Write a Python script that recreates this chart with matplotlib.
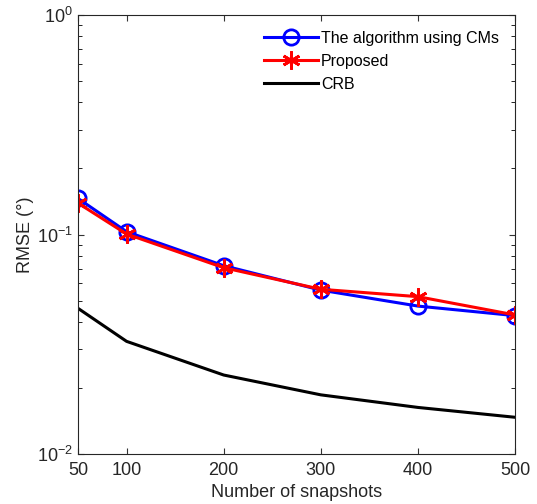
import matplotlib
matplotlib.use('Agg')
import matplotlib.pyplot as plt
from matplotlib.ticker import FixedLocator, LogLocator, NullFormatter

# values
snapshots = [50, 100, 200, 300, 400, 500]
rmse_cms = [0.146, 0.103, 0.0721, 0.0558, 0.0472, 0.0427]
rmse_proposed = [0.139, 0.1005, 0.0706, 0.0563, 0.0521, 0.0430]
crb = [0.0461, 0.0326, 0.0229, 0.0186, 0.0163, 0.0147]

plt.rcParams.update({
    'font.family': 'Liberation Sans',
    'mathtext.fontset': 'custom',
    'mathtext.rm': 'Liberation Sans',
    'mathtext.it': 'Liberation Sans:italic',
    'xtick.direction': 'in',
    'ytick.direction': 'in',
    'xtick.top': True,
    'ytick.right': True,
})

fig = plt.figure(figsize=(5.37, 5.04), dpi=100)
ax = fig.add_axes([0.1453, 0.0992, 0.8138, 0.8710])

ax.plot(snapshots, rmse_cms, color='#0000ff', lw=2.2, marker='o', ms=11,
        mfc='none', mew=2, label='The algorithm using CMs')
ax.plot(snapshots, rmse_proposed, color='#ff0000', lw=2.2, marker=(6, 2, 0), ms=13,
        mew=2, label='Proposed')
ax.plot(snapshots, crb, color='black', lw=2.2, label='CRB')

ax.set_yscale('log')
ax.set_xlim(50, 500)
ax.set_ylim(1e-2, 1e0)
ax.xaxis.set_major_locator(FixedLocator(snapshots))
ax.yaxis.set_minor_locator(LogLocator(base=10, subs=range(2, 10)))
ax.yaxis.set_minor_formatter(NullFormatter())
ax.tick_params(labelsize=13, length=4, width=0.8, color='#333333', labelcolor='#262626')
ax.tick_params(axis='x', pad=6)
ax.tick_params(which='minor', length=3)
for s in ax.spines.values():
    s.set_linewidth(0.8)
    s.set_color('#262626')

ax.set_xlabel('Number of snapshots', fontsize=13, color='#262626', labelpad=3)
ax.set_ylabel('RMSE (°)', fontsize=13, color='#262626', labelpad=2)

ax.legend(loc='upper right', frameon=False, fontsize=11.5, handlelength=3.4,
          handletextpad=0.2, labelspacing=0.5, borderaxespad=0.6)

fig.savefig('out.png', dpi=100, facecolor='white')
